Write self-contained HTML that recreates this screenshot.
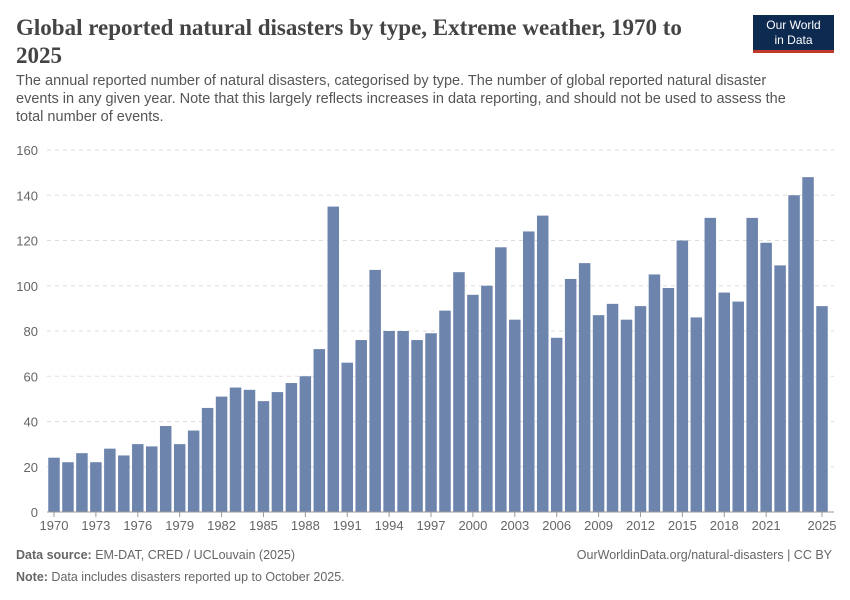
<!DOCTYPE html>
<html><head><meta charset="utf-8"><style>
body{margin:0;background:#fff;font-family:"Liberation Sans",sans-serif;}
#c{position:relative;width:850px;height:600px;overflow:hidden}
.t{position:absolute;left:16px;top:14px;font-family:"Liberation Serif",serif;font-weight:bold;font-size:23px;color:#444;line-height:28px;width:680px}
.s{position:absolute;left:16px;top:72px;font-size:14.5px;color:#555;line-height:18px;width:790px}
.f{position:absolute;font-size:12.5px;color:#666}
</style></head><body><div id="c">
<div class="t">Global reported natural disasters by type, Extreme weather, 1970 to<br>2025</div>
<div style="position:absolute;left:753px;top:15px;width:81px;height:38px;background:#0d2a50;border-bottom:3px solid #c0392b;color:#fff;font-size:12px;text-align:center;line-height:15px;padding-top:3px;box-sizing:border-box">Our World<br>in Data</div>
<div class="s">The annual reported number of natural disasters, categorised by type. The number of global reported natural disaster events in any given year. Note that this largely reflects increases in data reporting, and should not be used to assess the total number of events.</div>
<svg id="g" width="850" height="600" style="position:absolute;left:0;top:0"></svg>
<div class="f" style="left:16px;top:548px"><b>Data source:</b> EM-DAT, CRED / UCLouvain (2025)</div>
<div class="f" style="right:18px;top:548px">OurWorldinData.org/natural-disasters | CC BY</div>
<div class="f" style="left:16px;top:570px"><b>Note:</b> Data includes disasters reported up to October 2025.</div>
</div>
<script>
const years=[];for(let y=1970;y<=2025;y++)years.push(y);
const values=[24,22,26,22,28,25,30,29,38,30,36,46,51,55,54,49,53,57,60,72,135,66,76,107,80,80,76,79,89,106,96,100,117,85,124,131,77,103,110,87,92,85,91,105,99,120,86,130,97,93,130,119,109,140,148,91];
const yTicks=[0,20,40,60,80,100,120,140,160];
const xTickYears=[1970,1973,1976,1979,1982,1985,1988,1991,1994,1997,2000,2003,2006,2009,2012,2015,2018,2021,2025];
const NS='http://www.w3.org/2000/svg',g=document.getElementById('g');
const y0=512,y1=150,x0=54,step=(822-54)/55;
const ys=v=>y0-(v/160)*(y0-y1), xs=yr=>x0+(yr-1970)*step;
function el(t,a){const e=document.createElementNS(NS,t);for(const k in a)e.setAttribute(k,a[k]);g.appendChild(e);return e;}
yTicks.forEach(v=>{
 if(v>0){const l=el('line',{x1:47,x2:834,y1:ys(v),y2:ys(v),stroke:'#ddd','stroke-dasharray':'4,4'});
 
 }
 const t=el('text',{x:38,y:ys(v)+5,'text-anchor':'end','font-size':'13',fill:'#666','font-family':'Liberation Sans'});t.textContent=v;
 
 
});
values.forEach((v,i)=>{
 const r=el('rect',{x:xs(years[i])-5.75,y:ys(v),width:11.5,height:y0-ys(v),fill:'#6d84ad'});
 
 
});
const ax=el('line',{x1:47,x2:834,y1:y0,y2:y0,stroke:'#999'});


xTickYears.forEach(yr=>{
 const tk=el('line',{x1:xs(yr),x2:xs(yr),y1:y0,y2:y0+5,stroke:'#999'});
 
 
 const t=el('text',{x:xs(yr),y:y0+18,'text-anchor':'middle','font-size':'13',fill:'#666','font-family':'Liberation Sans'});t.textContent=yr;
 
 
});
</script></body></html>
